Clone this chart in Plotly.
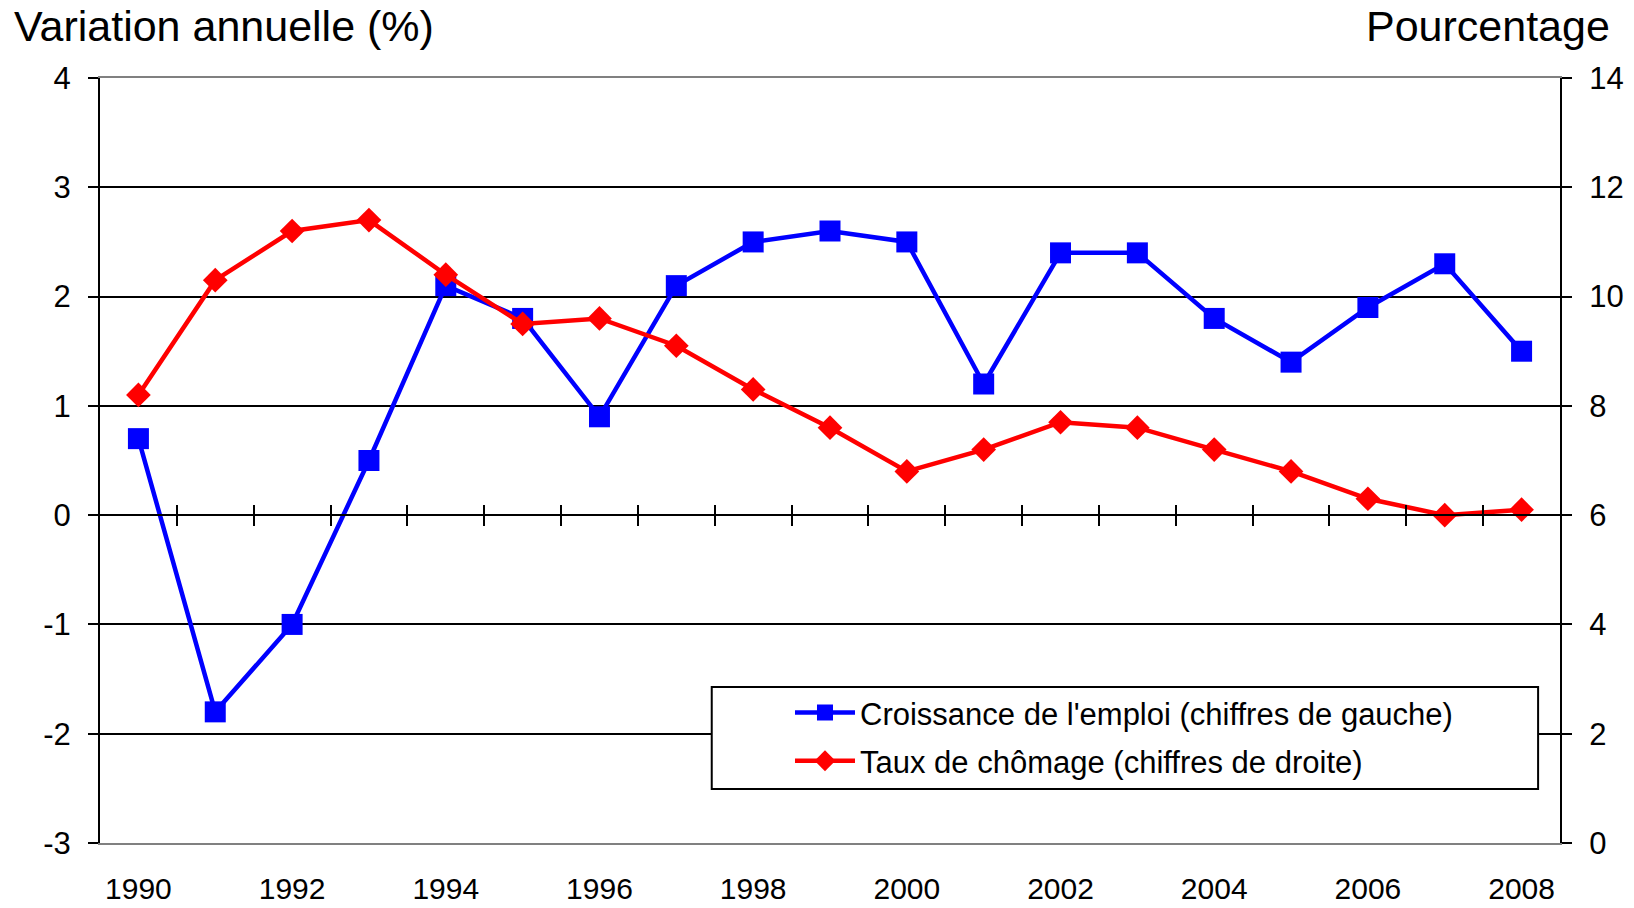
import plotly.graph_objects as go

years = list(range(1990, 2009))
emploi = [0.7, -1.8, -1.0, 0.5, 2.1, 1.8, 0.9, 2.1, 2.5, 2.6, 2.5, 1.2, 2.4, 2.4, 1.8, 1.4, 1.9, 2.3, 1.5]
chomage = [8.2, 10.3, 11.2, 11.4, 10.4, 9.5, 9.6, 9.1, 8.3, 7.6, 6.8, 7.2, 7.7, 7.6, 7.2, 6.8, 6.3, 6.0, 6.1]
left_ticks = [-3, -2, -1, 0, 1, 2, 3, 4]
right_ticks = [0, 2, 4, 6, 8, 10, 12, 14]
x_labels = list(range(1990, 2009, 2))
boundaries = [y + 0.5 for y in range(1990, 2008)]

name_emploi = "Croissance de l'emploi (chiffres de gauche)"
name_chomage = "Taux de chômage (chiffres de droite)"

FONT = "Liberation Sans, Arial, sans-serif"
xr = [1989.5, 2008.5]

fig = go.Figure()
fig.add_trace(go.Scatter(x=years, y=emploi, name=name_emploi, mode="lines+markers",
                         legendgroup="a",
                         line=dict(color="#0000FF", width=4.5),
                         marker=dict(symbol="square", size=21, color="#0000FF"),
                         xaxis="x", yaxis="y"))
fig.add_trace(go.Scatter(x=years, y=chomage, name=name_chomage, mode="lines+markers",
                         legendgroup="b",
                         line=dict(color="#FF0000", width=4.5),
                         marker=dict(symbol="diamond", size=19, color="#FF0000"),
                         xaxis="x", yaxis="y2"))
# invisible helpers so the crossing tick axes get drawn
for xa, ya in [("x2", "y"), ("x3", "y"), ("x", "y3"), ("x", "y4")]:
    fig.add_trace(go.Scatter(x=years, y=emploi, mode="lines", opacity=0, showlegend=False,
                             hoverinfo="skip", line=dict(width=0), xaxis=xa, yaxis=ya))

tick_font = dict(family=FONT, size=31, color="black")
xtick_font = dict(family=FONT, size=30, color="black")
fig.update_layout(
    width=1634, height=908,
    margin=dict(l=100, r=74, t=78, b=65, autoexpand=False),
    paper_bgcolor="white", plot_bgcolor="white",
    font=dict(family=FONT, color="black"),
    showlegend=True,
    legend=dict(x=0.4726, y=0.2055, xanchor="left", yanchor="top",
                bgcolor="rgba(0,0,0,0)", borderwidth=0,
                font=dict(family=FONT, size=31, color="black"),
                tracegroupgap=5, itemwidth=60),
    shapes=[dict(type="rect", xref="paper", yref="paper",
                 x0=0.419, x1=0.985, y0=0.0706, y1=0.204,
                 line=dict(color="black", width=2), fillcolor="white", layer="above")],
    xaxis=dict(range=xr, tickvals=x_labels, ticktext=[str(v) for v in x_labels],
               tickfont=xtick_font, ticks="", showgrid=False, zeroline=False,
               showline=True, linecolor="#808080", linewidth=2, mirror=True,
               ticklabelstandoff=18, automargin=False),
    xaxis2=dict(range=xr, overlaying="x", anchor="free", position=3 / 7,
                tickvals=boundaries, ticks="outside", ticklen=10, tickwidth=2, tickcolor="black",
                showticklabels=False, showgrid=False, zeroline=False,
                showline=True, linecolor="black", linewidth=2),
    xaxis3=dict(range=xr, overlaying="x", anchor="free", position=3 / 7,
                tickvals=boundaries, ticks="inside", ticklen=10, tickwidth=2, tickcolor="black",
                showticklabels=False, showgrid=False, zeroline=False, showline=False),
    yaxis=dict(range=[-3, 4], tickvals=left_ticks, ticktext=[str(v) for v in left_ticks],
               tickfont=tick_font, ticks="outside", ticklen=10, tickwidth=2, tickcolor="black",
               showgrid=True, gridcolor="black", gridwidth=1.5, zeroline=False,
               showline=True, linecolor="black", linewidth=2, ticklabelstandoff=11,
               automargin=False),
    yaxis2=dict(range=[0, 14], tickvals=right_ticks, ticktext=[str(v) for v in right_ticks],
                overlaying="y", side="right", anchor="x",
                tickfont=tick_font, ticks="outside", ticklen=10, tickwidth=2, tickcolor="black",
                showgrid=False, zeroline=False,
                showline=True, linecolor="black", linewidth=2, ticklabelstandoff=11,
                automargin=False),
    yaxis3=dict(range=[-3, 4], tickvals=left_ticks, overlaying="y", side="left", anchor="x",
                ticks="inside", ticklen=10, tickwidth=2, tickcolor="black",
                showticklabels=False, showgrid=False, zeroline=False, showline=False),
    yaxis4=dict(range=[0, 14], tickvals=right_ticks, overlaying="y", side="right", anchor="x",
                ticks="inside", ticklen=10, tickwidth=2, tickcolor="black",
                showticklabels=False, showgrid=False, zeroline=False, showline=False),
    annotations=[
        dict(text="Variation annuelle (%)", xref="paper", yref="paper",
             x=-0.06, y=1.068, xanchor="left", yanchor="middle", showarrow=False,
             font=dict(family=FONT, size=43, color="black")),
        dict(text="Pourcentage", xref="paper", yref="paper",
             x=1.0356, y=1.068, xanchor="right", yanchor="middle", showarrow=False,
             font=dict(family=FONT, size=43, color="black")),
    ],
)

fig.write_html("out.html", config={"displayModeBar": False},
               post_script="document.body.style.margin='0';")
